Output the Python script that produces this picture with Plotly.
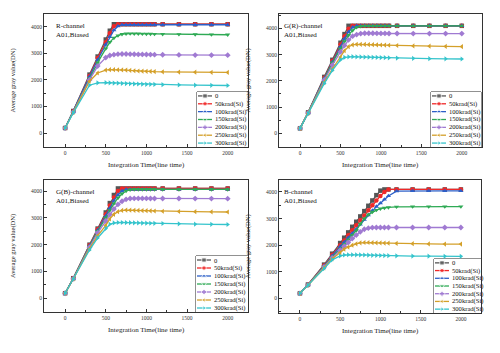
import plotly.graph_objects as go

# ---------------- data ----------------
x_time = [0, 100, 300, 400, 500, 550, 600, 650, 700, 750, 800, 850, 900, 950,
          1000, 1050, 1100, 1200, 1400, 1600, 1800, 2000]

series_names = ["0", "50krad(Si)", "100krad(Si)", "150krad(Si)",
                "200krad(Si)", "250krad(Si)", "300krad(Si)"]
series_colors = ["#555555", "#f02828", "#2c5fc8", "#2faa55",
                 "#a07ad2", "#d4a02a", "#35c4cc"]
series_symbols = ["square", "circle", "triangle-up", "triangle-down",
                  "diamond", "triangle-left", "triangle-right"]

channel_labels = ["R-channel", "G(R)-channel", "G(B)-channel", "B-channel"]
condition_label = "A01,Biased"

x_ticks = [0, 500, 1000, 1500, 2000]
y_ticks = [0, 1000, 2000, 3000, 4000]

r_channel = [
    [190, 830, 2200, 2880, 3520, 3850, 4095, 4095, 4095, 4095, 4095, 4095, 4095, 4095, 4095, 4095, 4095, 4095, 4095, 4095, 4095, 4095],
    [190, 820, 2150, 2820, 3420, 3760, 4020, 4095, 4095, 4095, 4095, 4095, 4095, 4095, 4095, 4095, 4095, 4095, 4095, 4095, 4095, 4095],
    [190, 815, 2120, 2760, 3330, 3620, 3870, 4020, 4075, 4075, 4075, 4075, 4075, 4075, 4075, 4075, 4075, 4075, 4075, 4075, 4075, 4075],
    [190, 800, 2060, 2650, 3180, 3420, 3580, 3670, 3720, 3740, 3745, 3740, 3738, 3735, 3732, 3730, 3725, 3720, 3715, 3710, 3705, 3700],
    [190, 790, 2000, 2520, 2840, 2920, 2950, 2970, 2975, 2975, 2970, 2965, 2960, 2958, 2955, 2952, 2950, 2945, 2940, 2935, 2932, 2930],
    [190, 775, 1950, 2260, 2370, 2385, 2385, 2380, 2375, 2370, 2355, 2345, 2335, 2330, 2322, 2318, 2312, 2305, 2295, 2290, 2285, 2282],
    [190, 760, 1800, 1890, 1895, 1890, 1882, 1875, 1868, 1862, 1855, 1850, 1845, 1840, 1835, 1832, 1828, 1820, 1810, 1800, 1795, 1790],
]

gr_channel = [
    [190, 800, 2150, 2800, 3450, 3780, 4095, 4095, 4095, 4095, 4095, 4095, 4095, 4095, 4095, 4095, 4095, 4095, 4095, 4095, 4095, 4095],
    [190, 795, 2120, 2760, 3380, 3700, 3980, 4095, 4095, 4095, 4095, 4095, 4095, 4095, 4095, 4095, 4095, 4095, 4095, 4095, 4095, 4095],
    [190, 790, 2100, 2720, 3300, 3600, 3860, 4040, 4095, 4095, 4095, 4095, 4095, 4095, 4095, 4095, 4095, 4095, 4095, 4095, 4095, 4095],
    [190, 785, 2070, 2680, 3220, 3500, 3740, 3920, 4040, 4080, 4095, 4095, 4095, 4095, 4095, 4095, 4095, 4095, 4095, 4095, 4095, 4095],
    [190, 775, 2030, 2600, 3100, 3350, 3560, 3700, 3760, 3800, 3810, 3810, 3810, 3808, 3806, 3805, 3804, 3802, 3800, 3800, 3800, 3800],
    [190, 760, 1950, 2450, 2900, 3150, 3300, 3370, 3390, 3390, 3385, 3380, 3375, 3370, 3365, 3360, 3355, 3345, 3330, 3320, 3310, 3305],
    [190, 750, 1900, 2400, 2800, 2890, 2915, 2920, 2915, 2910, 2905, 2900, 2895, 2890, 2885, 2880, 2875, 2868, 2855, 2845, 2838, 2832],
]

gb_channel = [
    [190, 750, 2000, 2600, 3200, 3550, 3850, 4095, 4095, 4095, 4095, 4095, 4095, 4095, 4095, 4095, 4095, 4095, 4095, 4095, 4095, 4095],
    [190, 745, 1980, 2570, 3130, 3460, 3760, 4000, 4095, 4095, 4095, 4095, 4095, 4095, 4095, 4095, 4095, 4095, 4095, 4095, 4095, 4095],
    [190, 740, 1960, 2540, 3060, 3360, 3640, 3860, 4000, 4060, 4060, 4060, 4060, 4060, 4060, 4060, 4060, 4060, 4060, 4060, 4060, 4060],
    [190, 735, 1940, 2500, 3000, 3280, 3530, 3740, 3900, 4000, 4050, 4060, 4060, 4060, 4060, 4060, 4060, 4060, 4060, 4060, 4060, 4060],
    [190, 730, 1900, 2440, 2880, 3120, 3330, 3500, 3620, 3690, 3720, 3725, 3725, 3724, 3723, 3722, 3721, 3720, 3720, 3718, 3716, 3715],
    [190, 720, 1850, 2330, 2720, 2960, 3130, 3230, 3275, 3290, 3285, 3280, 3275, 3270, 3265, 3260, 3255, 3245, 3235, 3228, 3222, 3218],
    [190, 710, 1800, 2250, 2600, 2760, 2810, 2825, 2825, 2822, 2818, 2814, 2810, 2806, 2802, 2798, 2795, 2788, 2775, 2765, 2758, 2752],
]

b_channel = [
    [190, 520, 1270, 1680, 2080, 2280, 2480, 2690, 2880, 3080, 3280, 3480, 3680, 3880, 4050, 4095, 4095, 4095, 4095, 4095, 4095, 4095],
    [190, 515, 1240, 1640, 2000, 2180, 2370, 2560, 2750, 2940, 3120, 3310, 3500, 3680, 3850, 4000, 4095, 4095, 4095, 4095, 4095, 4095],
    [190, 510, 1220, 1600, 1950, 2110, 2280, 2440, 2600, 2780, 2960, 3130, 3300, 3450, 3580, 3720, 3850, 4030, 4040, 4040, 4040, 4040],
    [190, 505, 1200, 1560, 1850, 2020, 2200, 2380, 2550, 2800, 3000, 3150, 3250, 3320, 3370, 3400, 3420, 3440, 3450, 3452, 3452, 3452],
    [190, 500, 1180, 1520, 1800, 1950, 2100, 2250, 2380, 2500, 2600, 2640, 2660, 2665, 2665, 2665, 2665, 2665, 2665, 2665, 2665, 2665],
    [190, 495, 1150, 1480, 1720, 1850, 1930, 2000, 2050, 2090, 2100, 2100, 2095, 2090, 2085, 2080, 2075, 2065, 2055, 2048, 2043, 2040],
    [190, 490, 1120, 1450, 1600, 1630, 1640, 1640, 1638, 1635, 1630, 1625, 1620, 1615, 1612, 1608, 1605, 1598, 1590, 1585, 1582, 1580],
]

panels_data = [r_channel, gr_channel, gb_channel, b_channel]

# ---------------- layout geometry (pixels) ----------------
W, H = 500, 353
FONT = "Liberation Serif"
# plot frames: left, right, top, bottom
frames = [(44, 248, 14, 147), (279, 482, 14, 147),
          (44, 248, 180, 312), (279, 481, 180, 313)]
y_ranges = [(-525, 4480), (-520, 4545), (-510, 4410), (-550, 4450)]
x_range = (-260, 2250)
legend_boxes = [(197, 248, 92, 147), (431, 481, 92, 147),
                (196, 248, 256, 312), (434, 481, 259, 313)]


def px(xp):
    return xp / W


def py(yp):
    return 1 - yp / H


fig = go.Figure()
layout = dict(width=W, height=H, margin=dict(l=0, r=0, t=0, b=0),
              paper_bgcolor="white", plot_bgcolor="white", showlegend=False,
              font=dict(family=FONT, color="#222222"))
annotations = []
shapes = []

for p in range(4):
    L, R, T, B = frames[p]
    sx = "" if p == 0 else str(p + 1)
    axis_common = dict(showline=True, linecolor="#333333", linewidth=1, mirror=True,
                       ticks="inside", ticklen=3, tickwidth=0.8, tickcolor="#333333",
                       showgrid=False, zeroline=False,
                       tickfont=dict(family=FONT, size=5.5, color="#333333"))
    layout["xaxis" + sx] = dict(axis_common, domain=[px(L), px(R)], range=list(x_range),
                                anchor="y" + sx, tickvals=x_ticks,
                                ticktext=[str(v) for v in x_ticks],
                                minor=dict(ticks="inside", ticklen=2, dtick=250,
                                           tickcolor="#333333", tickwidth=0.6))
    layout["yaxis" + sx] = dict(axis_common, domain=[py(B), py(T)], range=list(y_ranges[p]),
                                anchor="x" + sx, tickvals=y_ticks,
                                ticktext=[str(v) for v in y_ticks],
                                minor=dict(ticks="inside", ticklen=2, dtick=500,
                                           tickcolor="#333333", tickwidth=0.6))

    for i, vals in enumerate(panels_data[p]):
        fig.add_trace(go.Scatter(
            x=x_time, y=vals, mode="lines+markers", name=series_names[i],
            xaxis="x" + sx, yaxis="y" + sx,
            line=dict(color=series_colors[i], width=1.3),
            marker=dict(symbol=series_symbols[i], size=4.5, color=series_colors[i]),
            showlegend=False, hoverinfo="skip"))

    # channel label
    annotations.append(dict(
        text=channel_labels[p] + "<br>" + condition_label, xref="paper", yref="paper",
        x=px(L + 10 if p in (0, 2) else L + 3), y=py(T + 6), xanchor="left", yanchor="top",
        align="left", showarrow=False, font=dict(family=FONT, size=7, color="#111111")))
    # axis titles
    annotations.append(dict(
        text="Integration Time(line time)", xref="paper", yref="paper",
        x=px((L + R) / 2), y=py(B + 18), xanchor="center", yanchor="middle",
        showarrow=False, font=dict(family=FONT, size=7, color="#222222")))
    annotations.append(dict(
        text="Average gray value(DN)", xref="paper", yref="paper",
        x=px(L - 31), y=py((T + B) / 2), xanchor="center", yanchor="middle",
        textangle=-90, showarrow=False, font=dict(family=FONT, size=6.5, color="#222222")))

    # hand-made compact legend on its own small axis pair
    lL, lR, lT, lB = legend_boxes[p]
    lx = "x" + str(p + 5)
    ly = "y" + str(p + 5)
    bw = lR - lL
    n = len(series_names)
    layout["xaxis" + str(p + 5)] = dict(domain=[px(lL), px(lR)], range=[0, bw],
                                        visible=False, fixedrange=True, anchor=ly)
    layout["yaxis" + str(p + 5)] = dict(domain=[py(lB), py(lT)], range=[n, 0],
                                        visible=False, fixedrange=True, anchor=lx)
    shapes.append(dict(type="rect", xref=lx + " domain", yref=ly + " domain",
                       x0=0, x1=1, y0=0, y1=1, line=dict(color="#222222", width=1),
                       fillcolor="rgba(255,255,255,0)", layer="below"))
    for i in range(n):
        fig.add_trace(go.Scatter(
            x=[1, 8, 15], y=[i + 0.5] * 3, mode="lines+markers",
            xaxis=lx, yaxis=ly, showlegend=False, hoverinfo="skip",
            line=dict(color=series_colors[i], width=1.3),
            marker=dict(symbol=series_symbols[i], size=[0, 4.5, 0], color=series_colors[i])))
        annotations.append(dict(
            text=series_names[i], xref=lx, yref=ly, x=16, y=i + 0.5,
            xanchor="left", yanchor="middle", showarrow=False,
            font=dict(family=FONT, size=6.6, color="#111111")))

layout["annotations"] = annotations
layout["shapes"] = shapes
fig.update_layout(**layout)
fig.write_html("out.html")
